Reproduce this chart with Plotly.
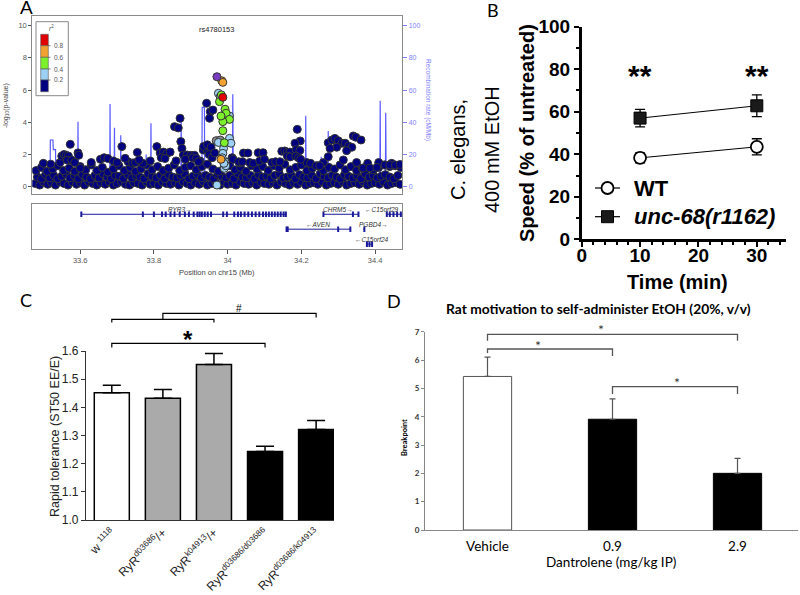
import plotly.graph_objects as go

W, H = 800, 595
def PX(v): return v / W
def PY(v): return 1 - v / H

# ---------------- Panel A: regional association plot ----------------
band_low_pos = [33.478,33.490,33.500,33.512,33.522,33.533,33.545,33.556,33.567,33.578,33.590,33.600,33.612,33.623,33.634,33.645,33.656,33.668,33.679,33.690,
                33.700,33.712,33.723,33.734,33.745,33.757,33.768,33.779,33.790,33.800,33.812,33.823,33.834,33.845,33.857,33.868,33.879,33.890,33.900,33.912,
                33.923,33.934,33.945,33.957,33.968,33.979,33.990,34.000,34.012,34.023,34.034,34.045,34.057,34.068,34.079,34.090,34.100,34.112,34.123,34.134,
                34.145,34.157,34.168,34.179,34.190,34.200,34.212,34.223,34.234,34.245,34.257,34.268,34.279,34.290,34.300,34.312,34.323,34.334,34.345,34.357,
                34.368,34.379,34.390,34.400,34.412,34.423,34.434,34.445,34.457,34.468]
band_low_logp = [0.20,0.10,0.30,0.15,0.25,0.10,0.30,0.20,0.10,0.30,0.15,0.25,0.10,0.30,0.20,0.10,0.25,0.15,0.30,0.10,
                 0.20,0.30,0.15,0.10,0.25,0.20,0.10,0.30,0.15,0.20,0.10,0.30,0.20,0.15,0.25,0.10,0.30,0.20,0.10,0.25,
                 0.15,0.30,0.10,0.20,0.25,0.10,0.30,0.15,0.20,0.10,0.30,0.20,0.15,0.25,0.10,0.30,0.20,0.15,0.25,0.10,
                 0.30,0.20,0.10,0.25,0.15,0.30,0.10,0.20,0.25,0.15,0.30,0.10,0.20,0.25,0.15,0.30,0.10,0.20,0.25,0.15,
                 0.30,0.10,0.20,0.25,0.15,0.30,0.10,0.20,0.25,0.15]
band_mid_pos = [33.484,33.495,33.506,33.517,33.528,33.539,33.550,33.561,33.572,33.584,33.595,33.606,33.617,33.628,33.640,33.651,33.662,33.673,33.684,33.695,
                33.706,33.717,33.729,33.740,33.751,33.762,33.773,33.784,33.795,33.806,33.818,33.829,33.840,33.851,33.862,33.873,33.884,33.895,33.906,33.918,
                33.929,33.940,33.951,33.962,33.973,33.984,33.995,34.006,34.017,34.028,34.040,34.051,34.062,34.073,34.084,34.095,34.106,34.117,34.128,34.140,
                34.151,34.162,34.173,34.184,34.195,34.206,34.217,34.228,34.240,34.251,34.262,34.273,34.284,34.295,34.306,34.317,34.328,34.340,34.351,34.362,
                34.373,34.384,34.395,34.406,34.417,34.428,34.440,34.451,34.462]
band_mid_logp = [0.60,0.50,0.75,0.55,0.70,0.50,0.65,0.80,0.55,0.70,0.50,0.75,0.60,0.50,0.70,0.55,0.80,0.60,0.50,0.70,
                 0.65,0.50,0.75,0.55,0.70,0.60,0.50,0.80,0.65,0.55,0.70,0.50,0.75,0.60,0.55,0.70,0.80,0.50,0.65,0.75,
                 0.55,0.70,0.60,0.50,0.75,0.65,0.55,0.70,0.50,0.80,0.60,0.55,0.70,0.50,0.75,0.60,0.65,0.50,0.70,0.80,
                 0.55,0.60,0.70,0.50,0.75,0.60,0.55,0.70,0.50,0.80,0.65,0.55,0.70,0.60,0.50,0.75,0.65,0.55,0.70,0.50,
                 0.80,0.60,0.70,0.55,0.65,0.75,0.60,0.50,0.70]
band_top_pos = [33.480,33.495,33.510,33.525,33.540,33.555,33.570,33.585,33.600,33.615,33.630,33.645,33.660,33.675,33.690,33.705,33.720,33.735,33.750,33.765,
                33.780,33.795,33.810,33.825,33.840,33.855,33.870,33.885,33.900,33.915,33.930,33.945,33.960,33.975,33.990,34.005,34.020,34.035,34.050,34.065,
                34.080,34.095,34.110,34.125,34.140,34.155,34.170,34.185,34.200,34.215,34.230,34.245,34.260,34.275,34.290,34.305,34.320,34.335,34.350,34.365,
                34.380,34.395,34.410,34.425,34.440,34.455,34.470]
band_top_logp = [1.00,1.20,0.95,1.10,1.30,1.00,1.15,0.95,1.25,1.05,1.35,1.00,1.20,0.90,1.10,1.30,1.00,1.20,0.95,1.10,
                 1.35,1.05,1.25,1.00,1.15,1.35,1.00,1.20,1.30,1.05,1.25,1.40,1.10,0.95,1.20,1.30,1.05,1.20,0.95,1.30,
                 1.10,1.25,1.00,1.30,1.15,1.40,1.05,1.20,1.35,1.00,1.15,1.30,1.00,1.20,1.10,1.35,1.05,1.25,1.00,1.15,
                 1.30,1.05,1.20,1.35,1.25,1.30,1.20]
band_upper_pos = [33.500,33.520,33.545,33.630,33.655,33.665,33.675,33.690,33.700,33.730,33.770,33.790,33.860,33.925,
                  34.060,34.070,34.120,34.130,34.215,34.225,34.260,34.350,34.380,34.410,34.445]
band_upper_logp = [1.45,1.40,1.50,1.50,1.70,1.80,1.75,1.60,1.50,1.55,1.45,1.60,1.60,1.60,
                   1.50,1.45,1.50,1.55,1.50,1.45,1.50,1.50,1.45,1.50,1.45]

peak_pos = [33.550,33.556,33.562,33.568,33.573,33.565,33.577,33.594,33.596,33.585,33.600,
            33.722,33.755,33.742,33.750,33.760,33.808,33.817,33.826,33.835,33.844,33.820,33.830,
            33.856,33.871,33.866,33.873,33.876,33.880,33.890,33.900,33.910,33.885,33.905,33.915,
            33.934,33.944,33.943,33.953,33.960,33.951,33.935,33.945,33.955,33.950,33.958,33.965,
            34.012,34.015,34.043,34.055,34.034,34.030,34.040,34.083,34.096,34.087,34.100,34.142,
            34.147,34.155,34.162,34.169,34.162,34.170,34.189,34.197,34.183,34.186,34.196,34.185,34.192,34.198,
            34.240,34.250,34.273,34.283,34.291,34.300,34.310,34.319,34.328,34.341,34.348,34.362,34.337,
            34.323,34.296,34.278,34.314,34.273,34.368,34.386,34.405,34.427,34.440,34.455,34.468,
            33.713,33.921,
            33.969,33.980,34.005,34.009,33.989,33.993,33.991,33.971,33.987,33.995,34.005,33.975,33.985,33.990,
            33.975,33.980,33.978,33.993,33.996,34.005,33.987,33.987,33.983,
            33.982,33.991,33.982,
            33.984,33.987,33.987]
peak_logp = [1.90,2.00,1.95,1.90,2.63,1.65,1.65,2.10,1.95,1.50,1.15,
             1.76,2.13,1.47,1.50,1.66,2.49,2.10,2.15,2.05,2.15,1.80,1.75,
             3.73,4.25,3.65,2.80,2.38,1.97,1.97,1.95,1.95,1.70,1.80,1.75,
             2.28,2.28,5.18,4.66,4.76,4.25,2.50,2.60,2.45,2.00,1.80,2.10,
             1.80,1.70,2.09,2.09,1.47,1.55,1.55,2.11,2.11,1.60,1.70,1.55,
             2.20,2.22,2.15,2.15,1.90,1.85,3.56,2.84,2.70,2.30,2.25,1.90,1.80,1.70,
             1.30,1.30,2.73,2.90,3.00,2.86,2.70,2.70,2.53,3.15,3.07,2.90,2.45,
             2.24,2.45,2.38,1.66,1.86,1.16,1.16,1.20,1.35,1.35,1.35,1.38,
             2.49,1.55,
             2.86,2.90,3.00,2.70,2.38,1.55,1.14,0.10,2.07,1.30,4.39,2.75,1.80,1.45,
             5.80,5.59,5.28,4.81,4.56,4.18,4.04,3.48,5.70,
             4.39,2.73,1.70,
             6.58,6.48,5.55]
peak_r2 = [0.1]*100 + [None]*2 + [0.3]*14 + [0.5]*9 + [0.7]*3 + [0.9]*3

lead_pos = [33.971]
lead_logp = [6.83]
lead_name = "rs4780153"

rec_pos = [33.470,33.482,33.484,33.486,33.518,33.519,33.526,33.527,33.533,33.534,33.593,33.594,33.595,
           33.680,33.681,33.682,33.692,33.693,33.694,33.709,33.710,33.711,33.778,33.779,33.780,
           33.791,33.792,33.793,33.873,33.874,33.875,33.930,33.931,33.937,33.938,34.013,34.014,34.015,34.017,
           34.211,34.212,34.213,34.253,34.254,34.255,34.272,34.273,34.274,34.413,34.414,34.415,
           34.428,34.429,34.430,34.474]
rec_rate = [0.5,0.5,11.8,0.5,1,29,29,23,23,1,1,40.4,1,
            1,51.4,1,1,36.6,1,1,32,1,1,20,1,
            1,39.4,1,1,42.5,1,1,49.3,49.3,1,1,57.4,21.7,1,
            1,44.1,1,1,18.6,1,1,34.6,1,1,53.4,1,
            1,46,12,12]

r2_labels = ["0.8", "0.6", "0.4", "0.2"]
r2_colors = ["#E00000", "#F2A230", "#7CF02A", "#9DD0F5", "#000080"]
na_color = "#8A8A8A"
lead_color = "#7A3DC0"

def r2_color(r):
    if r is None:
        return na_color
    if r >= 0.8: return r2_colors[0]
    if r >= 0.6: return r2_colors[1]
    if r >= 0.4: return r2_colors[2]
    if r >= 0.2: return r2_colors[3]
    return r2_colors[4]

gene_names = ["RYR3", "CHRM5", "C15orf29", "AVEN", "PGBD4", "C15orf24"]
gene_start = [33.603, 34.260, 34.431, 34.159, 34.369, 34.377]
gene_end = [34.159, 34.355, 34.474, 34.333, 34.373, 34.393]
gene_row = [1, 1, 1, 2, 2, 3]
gene_strand = ["+", "+", "-", "-", "+", "-"]
gene_label_pos = [33.871, 34.300, 34.420, 34.246, 34.395, 34.391]
exon_pos = [33.603,33.770,33.800,33.822,33.832,33.845,33.856,33.870,33.884,33.895,33.908,33.918,33.924,33.930,33.938,33.946,33.955,
            33.988,33.998,34.018,34.028,34.036,34.046,34.056,34.066,34.076,34.086,34.096,34.104,34.112,34.120,34.128,34.136,34.144,34.152,34.158,
            34.260,34.340,34.355,34.432,34.440,34.450,34.460,34.470,
            34.160,34.163,34.300,34.333,34.371,34.378,34.385,34.392]
exon_row = [1]*36 + [1]*3 + [1]*5 + [2]*4 + [2] + [3]*3
pos_ticks = [33.6, 33.8, 34.0, 34.2, 34.4]
pos_ticktext = ["33.6", "33.8", "34", "34.2", "34.4"]

# ---------------- Panel B ----------------
time_min = [10, 30]
wt_speed = [38.3, 43.5]
wt_err = [2.3, 3.8]
unc_speed = [57.0, 62.8]
unc_err = [4.1, 5.1]
sig_b = ["**", "**"]
legend_b = ["<b>WT</b>", "<b><i>unc-68(r1162)</i></b>"]

# ---------------- Panel C ----------------
c_cats = ["w <sup>1118</sup>", "RyR<sup>d03686</sup>/+", "RyR<sup>k04913</sup>/+",
          "RyR<sup>d03686/d03686</sup>", "RyR<sup>d03686/k04913</sup>"]
c_vals = [1.452, 1.432, 1.552, 1.243, 1.321]
c_err = [0.026, 0.031, 0.039, 0.019, 0.032]
c_colors = ["white", "#AAAAAA", "#AAAAAA", "black", "black"]

# ---------------- Panel D ----------------
d_cats = ["Vehicle", "0.9", "2.9"]
d_vals = [5.42, 3.91, 2.00]
d_err = [0.68, 0.72, 0.53]
d_colors = ["white", "black", "black"]

# ---------------- layout geometry ----------------
A_X = [PX(32.3), PX(402.3)]
A_Y = [PY(194), PY(16)]
G_Y = [PY(248.7), PY(204)]
A_RNG = [33.47, 34.474]
B_X = [PX(581.7), PX(786)]
B_Y = [PY(239.3), PY(26.7)]
C_X = [PX(86), PX(334)]
C_Y = [PY(520), PY(351)]
C_RNG = [-0.505, 4.35]
D_X = [PX(425), PX(798)]
D_Y = [PY(530), PY(331.7)]
D_RNG = [-0.5, 2.484]

def xmap(v, dom, rng):
    return dom[0] + (v - rng[0]) / (rng[1] - rng[0]) * (dom[1] - dom[0])

ARIAL = "Liberation Sans"
CALI = "Lato"

fig = go.Figure()

# recombination rate (base y axis, drawn beneath)
fig.add_trace(go.Scatter(x=rec_pos, y=rec_rate, mode="lines", xaxis="x", yaxis="y",
                         line=dict(color="rgba(60,60,255,0.85)", width=1.2), showlegend=False, hoverinfo="skip"))

pt_line = dict(color="#353535", width=1)
for bp, bl in [(band_low_pos, band_low_logp), (band_mid_pos, band_mid_logp), (band_top_pos, band_top_logp),
               (band_upper_pos, band_upper_logp)]:
    fig.add_trace(go.Scatter(x=bp, y=bl, mode="markers", xaxis="x", yaxis="y2",
                             marker=dict(size=8, color=r2_colors[4], line=pt_line), showlegend=False))

order = sorted(range(len(peak_pos)), key=lambda i: (-1 if peak_r2[i] is None else peak_r2[i]))
fig.add_trace(go.Scatter(x=[peak_pos[i] for i in order], y=[peak_logp[i] for i in order], mode="markers",
                         xaxis="x", yaxis="y2",
                         marker=dict(size=8, color=[r2_color(peak_r2[i]) for i in order], line=pt_line),
                         showlegend=False))
fig.add_trace(go.Scatter(x=lead_pos, y=lead_logp, mode="markers", xaxis="x", yaxis="y2",
                         marker=dict(size=8, color=lead_color, line=pt_line), showlegend=False))

# genes
for i, g in enumerate(gene_names):
    fig.add_trace(go.Scatter(x=[gene_start[i], gene_end[i]], y=[gene_row[i], gene_row[i]], mode="lines",
                             xaxis="x2", yaxis="y3", line=dict(color="#1a1a9a", width=1), showlegend=False))
fig.add_trace(go.Scatter(x=exon_pos, y=exon_row, mode="markers", xaxis="x2", yaxis="y3",
                         marker=dict(symbol="line-ns", size=4, line=dict(color="#1a1a9a", width=2)), showlegend=False))

# Panel B
fig.add_trace(go.Scatter(x=time_min, y=wt_speed, mode="lines+markers", xaxis="x3", yaxis="y4",
                         line=dict(color="black", width=1), showlegend=False,
                         marker=dict(symbol="circle", size=12, color="white", line=dict(color="black", width=1.8)),
                         error_y=dict(type="data", array=wt_err, color="black", thickness=1.3, width=5)))
fig.add_trace(go.Scatter(x=time_min, y=unc_speed, mode="lines+markers", xaxis="x3", yaxis="y4",
                         line=dict(color="black", width=1), showlegend=False,
                         marker=dict(symbol="square", size=12, color="#1a1a1a", line=dict(color="black", width=1)),
                         error_y=dict(type="data", array=unc_err, color="black", thickness=1.3, width=5)))

# Panel C
fig.add_trace(go.Bar(x=list(range(len(c_cats))), y=c_vals, xaxis="x4", yaxis="y5", width=0.686,
                     marker=dict(color=c_colors, line=dict(color="black", width=1.5)),
                     error_y=dict(type="data", array=c_err, arrayminus=[0]*len(c_err), color="black", thickness=1.5, width=9),
                     showlegend=False))

# Panel D
fig.add_trace(go.Bar(x=list(range(len(d_cats))), y=d_vals, xaxis="x5", yaxis="y6", width=0.386,
                     marker=dict(color=d_colors, line=dict(color=["#555555", "black", "black"], width=1)),
                     error_y=dict(type="data", array=d_err, arrayminus=[0]*len(d_err), color="#555555", thickness=1.2, width=3),
                     showlegend=False))

small_gray = dict(family=ARIAL, size=7.5, color="#555555")
blue = "#7f7fff"
bold19 = dict(family=ARIAL, size=19, color="black", weight="bold")

layout = dict(
    width=W, height=H, autosize=False, margin=dict(l=0, r=0, t=0, b=0, pad=0, autoexpand=False),
    paper_bgcolor="white", plot_bgcolor="white", font=dict(family=ARIAL), showlegend=False,
    # Panel A
    xaxis=dict(domain=A_X, range=A_RNG, anchor="y", showticklabels=False, ticks="", showgrid=False, zeroline=False,
               showline=True, mirror=True, linecolor="#8a8a8a", linewidth=1),
    yaxis=dict(domain=A_Y, range=[-4.53, 106.0], anchor="x", side="right", tickvals=[0, 20, 40, 60, 80, 100],
               ticks="outside", ticklen=4, tickcolor=blue, tickfont=dict(family=ARIAL, size=7, color=blue),
               showgrid=False, zeroline=False, showline=True, mirror=True, linecolor="#8a8a8a", linewidth=1),
    yaxis2=dict(overlaying="y", anchor="x", side="left", range=[-0.453, 10.60], tickvals=[0, 2, 4, 6, 8, 10],
                ticks="outside", ticklen=3, tickcolor="#555555", tickfont=small_gray, showgrid=False, zeroline=False,
                showline=False),
    xaxis2=dict(domain=A_X, range=A_RNG, anchor="y3", tickvals=pos_ticks, ticktext=pos_ticktext, ticks="outside",
                ticklen=4, tickcolor="#555555", tickfont=small_gray, showgrid=False, zeroline=False,
                showline=True, mirror=True, linecolor="#8a8a8a", linewidth=1),
    yaxis3=dict(domain=G_Y, range=[3.31, 0.31], anchor="x2", showticklabels=False, ticks="", showgrid=False,
                zeroline=False, showline=True, mirror=True, linecolor="#8a8a8a", linewidth=1),
    # Panel B
    xaxis3=dict(domain=B_X, range=[0, 35], anchor="y4", tick0=0, dtick=10, ticks="outside", ticklen=5, tickwidth=2,
                tickcolor="black", tickfont=bold19, showline=True, linecolor="black", linewidth=2.5,
                showgrid=False, zeroline=False, ticklabelstandoff=-8,
                minor=dict(dtick=2, ticks="outside", ticklen=3, tickwidth=1.5, tickcolor="black")),
    yaxis4=dict(domain=B_Y, range=[0, 100], anchor="x3", tick0=0, dtick=20, ticks="outside", ticklen=5, tickwidth=2,
                tickcolor="black", tickfont=bold19, showline=True, linecolor="black", linewidth=2.5,
                showgrid=False, zeroline=False,
                minor=dict(dtick=10, ticks="outside", ticklen=3, tickwidth=1.5, tickcolor="black")),
    # Panel C
    xaxis4=dict(domain=C_X, range=C_RNG, anchor="y5", tickvals=list(range(len(c_cats))), ticktext=c_cats,
                tickangle=-45, ticks="", tickfont=dict(family=ARIAL, size=12, color="#222222"),
                showline=True, linecolor="#333333", linewidth=1.2, showgrid=False, zeroline=False),
    yaxis5=dict(domain=C_Y, range=[1.0, 1.6], anchor="x4", dtick=0.1, tick0=1.0, tickformat=".1f", ticks="outside",
                ticklen=4, tickcolor="#333333", tickfont=dict(family=ARIAL, size=12, color="#222222"),
                showline=True, linecolor="#333333", linewidth=1.2, showgrid=False, zeroline=False),
    # Panel D
    xaxis5=dict(domain=D_X, range=D_RNG, anchor="y6", tickvals=list(range(len(d_cats))), ticktext=d_cats,
                ticks="outside", ticklen=4, tickcolor="rgba(0,0,0,0)", tickfont=dict(family=CALI, size=13.5, color="black"),
                showline=True, linecolor="#888888", linewidth=1, showgrid=False, zeroline=False),
    yaxis6=dict(domain=D_Y, range=[0, 7], anchor="x5", dtick=1, ticks="outside", ticklen=3, tickcolor="#888888",
                tickfont=dict(family=CALI, size=8, color="#333333", weight="bold"),
                showline=True, linecolor="#888888", linewidth=1, showgrid=False, zeroline=False),
)
fig.update_layout(**layout)

ann = []
shapes = []
def txt(x, y, s, size, color="black", family=ARIAL, angle=0, weight="normal", xa="center", ya="middle", **kw):
    ann.append(dict(x=PX(x), y=PY(y), xref="paper", yref="paper", text=s, showarrow=False, textangle=angle,
                    font=dict(family=family, size=size, color=color, weight=weight), xanchor=xa, yanchor=ya, **kw))

# panel letters
txt(26, 8, "A", 19)
txt(493, 10, "B", 18, family=CALI)
txt(26, 300, "C", 18, family=CALI)
txt(394, 301, "D", 18, family=CALI)

# Panel A texts
txt(6, 106, "-log<sub>10</sub>(p-value)", 7, color="#444444", angle=-90)
txt(428, 100, "Recombination rate (cM/Mb)", 6.5, color=blue, angle=90)
txt(216.7, 29.5, lead_name, 7.5, color="#222222")
txt(217, 273, "Position on chr15 (Mb)", 7.5, color="#444444")
for i, g in enumerate(gene_names):
    lab = ("<i>%s</i>→" % g) if gene_strand[i] == "+" else ("←<i>%s</i>" % g)
    ann.append(dict(x=gene_label_pos[i], y=gene_row[i] - 0.33, xref="x2", yref="y3", text=lab, showarrow=False,
                    font=dict(family=ARIAL, size=6.5, color="#333333"), xanchor="center", yanchor="middle"))

# r2 legend box
shapes.append(dict(type="rect", xref="paper", yref="paper", x0=PX(36), x1=PX(68.3), y0=PY(95.7), y1=PY(21.7),
                   line=dict(color="#888888", width=1), fillcolor="white"))
edges = [34.3, 45.7, 57.3, 69.0, 80.0, 91.7]
for k, col in enumerate(r2_colors):
    shapes.append(dict(type="rect", xref="paper", yref="paper", x0=PX(40.7), x1=PX(48.3), y0=PY(edges[k + 1]),
                       y1=PY(edges[k]), line=dict(color="#555555", width=0.6), fillcolor=col))
for k, lab in enumerate(r2_labels):
    shapes.append(dict(type="line", xref="paper", yref="paper", x0=PX(48.3), x1=PX(50.5), y0=PY(edges[k + 1]),
                       y1=PY(edges[k + 1]), line=dict(color="#555555", width=0.8)))
    txt(51.5, edges[k + 1], lab, 6.5, color="#555555", xa="left")
txt(51.5, 28, "<i>r</i><sup>2</sup>", 6.5, color="#555555")

# Panel B texts
txt(458, 150, "C. elegans,", 20, angle=-90)
txt(492, 150, "400 mM EtOH", 20, angle=-90)
txt(527, 133, "Speed (% of untreated)", 20, angle=-90, weight="bold")
txt(677, 282, "Time (min)", 20, weight="bold")
for i, t in enumerate(time_min):
    ann.append(dict(x=t, y=77, xref="x3", yref="y4", text=sig_b[i], showarrow=False,
                    font=dict(family=ARIAL, size=30, color="black", weight="bold"), xanchor="center", yanchor="middle"))
# B legend (drawn manually)
for k, (ly, lab) in enumerate(zip([188, 216.7], legend_b)):
    shapes.append(dict(type="line", xref="paper", yref="paper", x0=PX(595), x1=PX(620), y0=PY(ly), y1=PY(ly),
                       line=dict(color="black", width=1.2)))
    shapes.append(dict(type="circle" if k == 0 else "rect", xref="paper", yref="paper",
                       x0=PX(601.5), x1=PX(613.5), y0=PY(ly + 6), y1=PY(ly - 6),
                       fillcolor="white" if k == 0 else "#1a1a1a", line=dict(color="black", width=1.8 if k == 0 else 1)))
    txt(632, ly, lab, 22, xa="left")

# Panel C texts and brackets
txt(55, 437, "Rapid tolerance (ST50 EE/E)", 12.5, color="#222222", angle=-90)
cx = lambda i: xmap(i, C_X, C_RNG)
def path(pts, color="black", width=1.2):
    d = "M " + " L ".join("%f,%f" % p for p in pts)
    shapes.append(dict(type="path", xref="paper", yref="paper", path=d, line=dict(color=color, width=width)))
path([(cx(0), PY(322.5)), (cx(0), PY(319.3)), (cx(2), PY(319.3)), (cx(2), PY(322.5))])
mid1 = (cx(0) + cx(2)) / 2
path([(mid1, PY(319.3)), (mid1, PY(313.3)), (cx(4), PY(313.3)), (cx(4), PY(317.5))])
path([(cx(0), PY(347.5)), (cx(0), PY(343.3)), (cx(3), PY(343.3)), (cx(3), PY(347.5))])
ann.append(dict(x=(mid1 + cx(4)) / 2, y=PY(308), xref="paper", yref="paper", text="#", showarrow=False,
                font=dict(family=ARIAL, size=10, color="black"), xanchor="center", yanchor="middle"))
ann.append(dict(x=(cx(0) + cx(3)) / 2, y=PY(339), xref="paper", yref="paper", text="*", showarrow=False,
                font=dict(family=ARIAL, size=24, color="black", weight="bold"), xanchor="center", yanchor="middle"))

# Panel D texts and brackets
txt(598, 308.5, "Rat motivation to self-administer EtOH (20%, v/v)", 13.8, family=CALI, weight="bold")
txt(611, 562, "Dantrolene (mg/kg IP)", 13.5, family=CALI)
txt(404, 438, "Breakpoint", 7.5, family=CALI, angle=-90, weight="bold")
dx = lambda i: xmap(i, D_X, D_RNG)
gcol = "#555555"
path([(dx(0), PY(340.7)), (dx(0), PY(334.3)), (dx(2), PY(334.3)), (dx(2), PY(340.7))], gcol, 1.3)
path([(dx(0), PY(353)), (dx(0), PY(349)), (dx(1), PY(349)), (dx(1), PY(356))], gcol, 1.3)
path([(dx(1), PY(394)), (dx(1), PY(386.7)), (dx(2), PY(386.7)), (dx(2), PY(394))], gcol, 1.3)
for xc, yc in [(0.91, 329), (0.40, 345), (1.514, 382.5)]:
    ann.append(dict(x=dx(xc), y=PY(yc), xref="paper", yref="paper", text="*", showarrow=False,
                    font=dict(family=CALI, size=14, color="#333333"), xanchor="center", yanchor="middle"))

fig.update_layout(annotations=ann, shapes=shapes)
fig.write_html("out.html", config={"displayModeBar": False},
               post_script="document.body.style.margin='0';document.body.style.overflow='hidden';")
